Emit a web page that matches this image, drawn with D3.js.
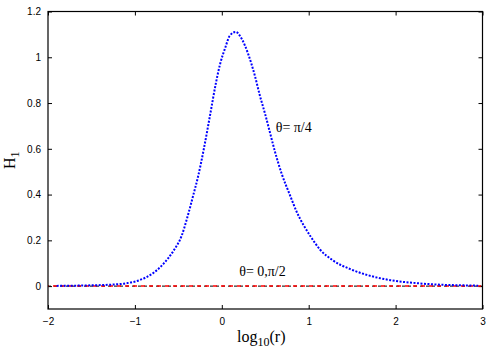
<!DOCTYPE html>
<html>
<head>
<meta charset="utf-8">
<script src="https://cdn.jsdelivr.net/npm/d3@7"></script>
<style>
  body { margin: 0; background: #fff; }
  .tick text { font-family: "Liberation Sans", Arial, sans-serif; font-size: 10px; fill: #000; }
  .tick line { stroke: #000; }
  .lbl { font-family: "Liberation Serif", "Times New Roman", serif; fill: #000; }
</style>
</head>
<body>
<div class="chart"></div>
<script>
// H1 versus log10(r)

// data
var logR = [-1.9, -1.56, -1.29, -1.09, -0.94, -0.79, -0.67, -0.56, -0.46, -0.40, -0.33, -0.27,
  -0.205, -0.136, -0.07, -0.02, 0.04, 0.09, 0.16, 0.23, 0.305, 0.38, 0.44, 0.50, 0.555, 0.61,
  0.69, 0.785, 0.86, 0.94, 1.02, 1.13, 1.28, 1.48, 1.67, 1.94, 2.24, 2.47, 2.82, 2.95];
var h1Quarter = [0.001, 0.003, 0.006, 0.013, 0.027, 0.057, 0.098, 0.152, 0.222, 0.296, 0.395, 0.484,
  0.603, 0.745, 0.883, 0.970, 1.042, 1.093, 1.111, 1.08, 1.013, 0.92, 0.83, 0.75, 0.67, 0.59,
  0.49, 0.397, 0.326, 0.267, 0.218, 0.160, 0.112, 0.074, 0.049, 0.026, 0.013, 0.007, 0.003, 0.002];

// theta = 0, pi/2 gives zero everywhere
var logRFlat = [-2, -1, 0, 1, 2, 3];
var h1Flat = [0, 0, 0, 0, 0, 0];

var xTicks = [-2, -1, 0, 1, 2, 3];
var yTicks = [0, 0.2, 0.4, 0.6, 0.8, 1, 1.2];

var svgWidth = 500;
var svgHeight = 350;

var margin = { top: 11.5, right: 17.5, bottom: 41, left: 48 };
var width = svgWidth - margin.left - margin.right;
var height = svgHeight - margin.top - margin.bottom;

var svg = d3.select(".chart")
  .append("svg")
  .attr("width", svgWidth)
  .attr("height", svgHeight);

var chartGroup = svg.append("g")
  .attr("transform", `translate(${margin.left}, ${margin.top})`);

var xScale = d3.scaleLinear().domain([-2, 3]).range([0, width]);
var yScale = d3.scaleLinear().domain([-0.1, 1.2]).range([height, 0]);

// axes, ticks pointing inwards
var bottomAxis = d3.axisBottom(xScale).tickValues(xTicks).tickFormat(d3.format("d"))
  .tickSize(-4).tickPadding(9);
var leftAxis = d3.axisLeft(yScale).tickValues(yTicks).tickFormat(d => String(+d.toFixed(1)))
  .tickSize(-4).tickPadding(7);
var topAxis = d3.axisTop(xScale).tickValues(xTicks).tickFormat("").tickSize(-4);
var rightAxis = d3.axisRight(yScale).tickValues(yTicks).tickFormat("").tickSize(-4);

function drawAxis(g) {
  g.select(".domain").remove();
  g.selectAll(".tick line").attr("stroke-width", 1);
}

chartGroup.append("g")
  .attr("transform", `translate(0, ${height})`)
  .call(bottomAxis).call(drawAxis)
  .selectAll("text").attr("font-size", 11);

chartGroup.append("g")
  .call(leftAxis).call(drawAxis);

chartGroup.append("g").call(topAxis).call(drawAxis);

chartGroup.append("g")
  .attr("transform", `translate(${width}, 0)`)
  .call(rightAxis).call(drawAxis);

// zero line (black dotted) and flat series (red dashed)
chartGroup.append("line")
  .attr("x1", 0).attr("x2", width)
  .attr("y1", yScale(0)).attr("y2", yScale(0))
  .attr("stroke", "#000")
  .attr("stroke-width", 1)
  .attr("stroke-dasharray", "3,3");

var line = d3.line()
  .x((d, i) => xScale(d))
  .curve(d3.curveMonotoneX);

chartGroup.append("path")
  .datum(logRFlat)
  .attr("d", line.y((d, i) => yScale(h1Flat[i])))
  .attr("fill", "none")
  .attr("stroke", "#ff0000")
  .attr("stroke-width", 1.5)
  .attr("stroke-dasharray", "4,4")
  .attr("stroke-dashoffset", 3);

chartGroup.append("path")
  .datum(logR)
  .attr("d", line.y((d, i) => yScale(h1Quarter[i])))
  .attr("fill", "none")
  .attr("stroke", "#0000ff")
  .attr("stroke-width", 2)
  .attr("stroke-dasharray", "2,1.5");

// frame
chartGroup.append("rect")
  .attr("width", width)
  .attr("height", height)
  .attr("fill", "none")
  .attr("stroke", "#000")
  .attr("stroke-width", 1.2);

// curve labels
chartGroup.append("text")
  .attr("class", "lbl")
  .attr("x", xScale(0.62))
  .attr("y", yScale(0.675))
  .attr("font-size", 14)
  .text("θ= π/4");

chartGroup.append("text")
  .attr("class", "lbl")
  .attr("x", xScale(0.2))
  .attr("y", yScale(0.045))
  .attr("font-size", 14)
  .text("θ= 0,π/2");

// axis labels
var xLabel = chartGroup.append("text")
  .attr("class", "lbl")
  .attr("text-anchor", "middle")
  .attr("x", width / 2 - 4)
  .attr("y", height + 33)
  .attr("font-size", 16);
xLabel.append("tspan").text("log");
xLabel.append("tspan").attr("dy", 4).attr("font-size", 12).text("10");
xLabel.append("tspan").attr("dy", -4).text("(r)");

var yLabel = chartGroup.append("text")
  .attr("class", "lbl")
  .attr("text-anchor", "middle")
  .attr("transform", `translate(${-margin.left + 15}, ${height / 2}) rotate(-90)`)
  .attr("font-size", 16);
yLabel.append("tspan").text("H");
yLabel.append("tspan").attr("dy", 4).attr("font-size", 12).text("1");
</script>
</body>
</html>
